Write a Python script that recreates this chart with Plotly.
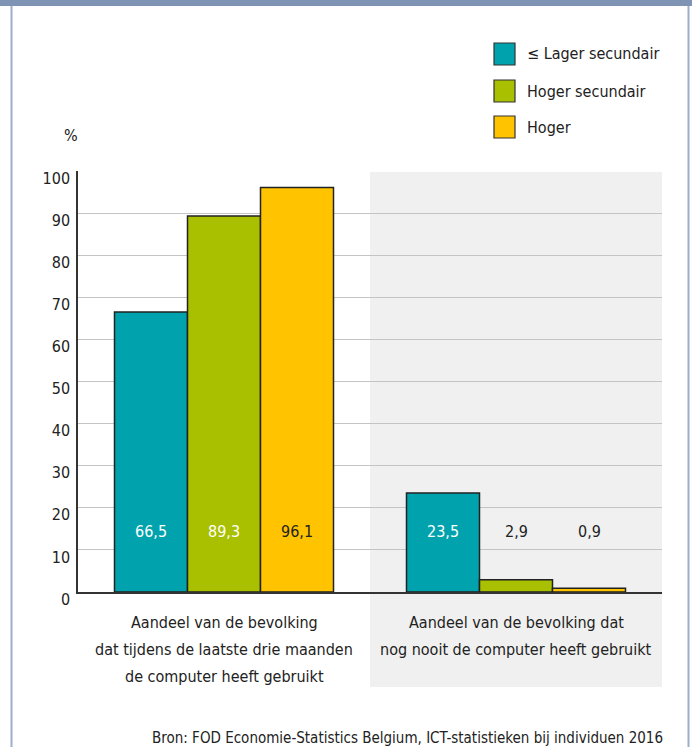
import plotly.graph_objects as go

# ---- data ----
categories = [
    "Aandeel van de bevolking<br>dat tijdens de laatste drie maanden<br>de computer heeft gebruikt",
    "Aandeel van de bevolking dat<br>nog nooit de computer heeft gebruikt",
]
series_names = ["≤ Lager secundair", "Hoger secundair", "Hoger"]
lager_secundair = [66.5, 23.5]
hoger_secundair = [89.3, 2.9]
hoger = [96.1, 0.9]
y_ticks = [0, 10, 20, 30, 40, 50, 60, 70, 80, 90, 100]
source_text = "Bron: FOD Economie-Statistics Belgium, ICT-statistieken bij individuen 2016"

series_values = [lager_secundair, hoger_secundair, hoger]
colors = ["#00A3AD", "#A9C000", "#FFC300"]
label_colors = [["white", "white"], ["white", "#222222"], ["#222222", "#222222"]]

FONT = "DejaVu Sans Condensed, Liberation Sans Narrow, sans-serif"
W, H = 692, 747
L, R, T, B = 78, 30, 171, 155
PW, PH = W - L - R, H - T - B


def px2x(px):
    return (px - L) / PW


def py2y(py):
    return (H - B - py) / PH


fig = go.Figure()
for name, vals, col in zip(series_names, series_values, colors):
    fig.add_trace(go.Bar(
        x=list(range(len(categories))), y=vals, name=name,
        marker=dict(color=col, line=dict(color="#222222", width=1.5)),
        showlegend=False, hoverinfo="skip",
    ))

annotations = []
n = len(series_names)
for i, vals in enumerate(series_values):
    for j, v in enumerate(vals):
        annotations.append(dict(
            x=j + (i - (n - 1) / 2) * 0.25, y=14.3, xref="x", yref="y",
            text=f"{v:.1f}".replace(".", ","), showarrow=False,
            font=dict(family=FONT, size=16, color=label_colors[i][j]),
        ))

# category labels (multi-line)
line_y = [622, 649, 676]
for j, cat in enumerate(categories):
    for k, line in enumerate(cat.split("<br>")):
        annotations.append(dict(
            x=j, y=py2y(line_y[k]), xref="x", yref="paper",
            text=line, showarrow=False, yanchor="middle",
            font=dict(family=FONT, size=16, color="#222222"),
        ))

# custom legend
legend_top = [43, 80, 116]
shapes = []
for name, col, ty in zip(series_names, colors, legend_top):
    shapes.append(dict(type="rect", xref="paper", yref="paper",
                       x0=px2x(494), x1=px2x(515), y0=py2y(ty), y1=py2y(ty + 22),
                       fillcolor=col, line=dict(color="#333333", width=1.2)))
    annotations.append(dict(x=px2x(525), y=py2y(ty + 11), xref="paper", yref="paper",
                            text=name, showarrow=False, xanchor="left", yanchor="middle",
                            font=dict(family=FONT, size=16, color="#222222")))

annotations.append(dict(x=px2x(62), y=py2y(136), xref="paper", yref="paper", text="%",
                        showarrow=False, yanchor="middle",
                        font=dict(family=FONT, size=16, color="#222222")))
annotations.append(dict(x=px2x(665), y=py2y(738), xref="paper", yref="paper", text=source_text,
                        showarrow=False, xanchor="right", yanchor="middle",
                        font=dict(family=FONT, size=15, color="#222222")))

# shaded second category region
shapes.append(dict(type="rect", xref="x", yref="paper", x0=0.5, x1=1.5,
                   y0=py2y(687), y1=py2y(172), fillcolor="#F0F0F0",
                   line=dict(width=0), layer="below"))
# frame: top band and side borders
shapes.append(dict(type="rect", xref="paper", yref="paper", x0=px2x(0), x1=px2x(692),
                   y0=py2y(6), y1=py2y(0), fillcolor="#7F93B5", line=dict(width=0)))
for bx in [11.5, 688.5]:
    shapes.append(dict(type="line", xref="paper", yref="paper", x0=px2x(bx), x1=px2x(bx),
                       y0=py2y(6), y1=py2y(747), line=dict(color="#9DADCB", width=2)))

fig.update_layout(
    width=W, height=H,
    margin=dict(l=L, r=R, t=T, b=B, autoexpand=False),
    paper_bgcolor="white", plot_bgcolor="rgba(0,0,0,0)",
    barmode="group", bargap=0.25, bargroupgap=0,
    showlegend=False, hovermode=False,
    font=dict(family=FONT, size=16, color="#222222"),
    annotations=annotations, shapes=shapes,
)
fig.update_xaxes(range=[-0.5, 1.5], showticklabels=False, showgrid=False,
                 showline=True, linecolor="#333333", linewidth=1.5, ticks="",
                 zeroline=False)
fig.update_yaxes(range=[0, 100], tickvals=y_ticks, ticks="", showline=True,
                 linecolor="#333333", linewidth=1.5, gridcolor="#C4C4C4", gridwidth=1.3,
                 zeroline=False, ticklabelposition="outside", ticklabelshift=7,
                 ticklabelstandoff=3,
                 tickfont=dict(family=FONT, size=16, color="#222222"))

fig.write_html("out.html", config={"displayModeBar": False},
               post_script="document.body.style.margin='0';")
